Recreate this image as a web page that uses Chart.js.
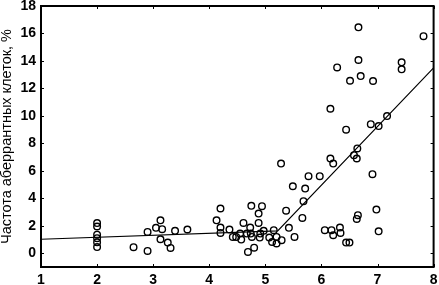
<!DOCTYPE html>
<html>
<head>
<meta charset="utf-8">
<script src="https://cdn.jsdelivr.net/npm/chart.js@4.4.1/dist/chart.umd.min.js"></script>
<style>
html,body{margin:0;padding:0;background:#fff;}
#wrap{width:439px;height:285px;position:relative;}
</style>
</head>
<body>
<div id="wrap"><canvas id="c" width="439" height="285"></canvas></div>
<script>
const yTitle = "Частота аберрантных клеток, %";
const xTickVals = [1,2,3,4,5,6,7,8];
const yTickVals = [0,2,4,6,8,10,12,14,16,18];

const pointsX = [
  2,2,2,2,2,2,
  2.65,2.9,2.9,3.05,3.13,3.16,3.13,3.26,3.31,3.39,3.61,
  4.13,4.2,4.2,4.2,4.36,4.42,4.48,4.55,4.57,4.61,4.67,4.73,4.74,4.76,4.69,4.8,4.75,4.94,4.88,4.88,4.91,4.9,4.97,5.07,5.12,5.2,5.2,5.29,5.15,5.37,
  5.28,6.16,6.21,5.77,5.97,5.49,5.71,5.68,5.66,5.42,5.52,6.65,6.63,6.06,6.18,6.21,6.33,6.34,6.44,6.5,6.64,6.58,6.63,
  6.66,7.82,6.66,6.28,7.43,7.43,6.51,6.70,6.92,6.16,6.44,6.88,7.02,7.17,6.91,6.98,7.02
];
const pointsY = [
  2.2,1.95,1.35,1.1,0.8,0.45,
  0.44,0.17,1.55,1.85,2.4,1.75,1.02,0.78,0.39,1.63,1.73,
  2.4,3.26,1.87,1.48,1.73,1.19,1.19,1.43,1.0,2.21,1.43,1.87,1.43,1.19,0.1,0.41,3.45,3.43,2.89,2.21,1.43,1.14,1.63,1.14,0.82,1.19,0.71,0.95,1.68,3.1,
  6.53,6.9,6.53,5.61,5.61,4.88,4.71,3.79,2.57,1.85,1.19,2.77,2.5,1.68,1.68,1.31,1.87,1.48,0.78,0.78,7.63,7.14,6.9,
  16.45,15.8,14.07,13.53,13.9,13.39,12.56,12.9,12.54,10.52,9.0,9.4,9.26,9.99,5.76,3.18,1.6
];
const fitX = [1, 5.22, 8];
const fitY = [1.02, 1.63, 13.5];

const scatterData = pointsX.map((x,i)=>({x:x, y:pointsY[i]}));
const lineData = fitX.map((x,i)=>({x:x, y:fitY[i]}));

const frameTicks = {
  id:'frameTicks',
  afterDraw(chart){
    const ctx = chart.ctx, a = chart.chartArea;
    const xs = chart.scales.x, ys = chart.scales.y;
    ctx.save();
    ctx.strokeStyle = '#000';
    ctx.lineWidth = 2;
    ctx.strokeRect(a.left, a.top, a.right-a.left, a.bottom-a.top);
    ctx.lineWidth = 1;
    const L = 3;
    ctx.beginPath();
    xTickVals.forEach(v=>{
      const px = Math.round(xs.getPixelForValue(v))+0.5;
      ctx.moveTo(px, a.bottom); ctx.lineTo(px, a.bottom-L);
      ctx.moveTo(px, a.top); ctx.lineTo(px, a.top+L);
    });
    yTickVals.forEach(v=>{
      const py = Math.round(ys.getPixelForValue(v))+0.5;
      ctx.moveTo(a.left, py); ctx.lineTo(a.left+L, py);
      ctx.moveTo(a.right, py); ctx.lineTo(a.right-L, py);
    });
    ctx.stroke();
    ctx.restore();
  }
};

new Chart(document.getElementById('c'), {
  type:'scatter',
  data:{
    datasets:[
      {
        type:'line',
        data:lineData,
        borderColor:'#000',
        borderWidth:1.2,
        pointRadius:0,
        fill:false,
        tension:0
      },
      {
        data:scatterData,
        pointStyle:'circle',
        pointRadius:3.3,
        pointBorderWidth:1.4,
        pointBorderColor:'#000',
        pointBackgroundColor:'rgba(0,0,0,0)',
        showLine:false
      }
    ]
  },
  options:{
    responsive:false,
    animation:false,
    devicePixelRatio:1,
    layout:{padding:{top:6,right:5,left:0,bottom:0}},
    plugins:{legend:{display:false},tooltip:{enabled:false}},
    scales:{
      x:{
        type:'linear', min:1, max:8,
        grid:{display:false, drawTicks:false},
        border:{display:false},
        afterBuildTicks(s){ s.ticks = xTickVals.map(v=>({value:v})); },
        afterFit(s){ s.height = 18; s.paddingRight = 0; s.paddingLeft = 0; },
        ticks:{color:'#000', padding:5, font:{family:'Liberation Sans, Arial, sans-serif', size:14, weight:'bold'}, maxRotation:0}
      },
      y:{
        type:'linear', min:-1, max:18,
        grid:{display:false, drawTicks:false},
        border:{display:false},
        afterBuildTicks(s){ s.ticks = yTickVals.map(v=>({value:v})); },
        afterFit(s){ s.width = 41; s.paddingTop = 0; s.paddingBottom = 0; },
        ticks:{color:'#000', padding:5, font:{family:'Liberation Sans, Arial, sans-serif', size:14, weight:'bold'}},
        title:{display:true, text:yTitle, color:'#000', padding:{top:0,bottom:0}, font:{family:'Liberation Sans, Arial, sans-serif', size:14.5, lineHeight:1}}
      }
    }
  },
  plugins:[frameTicks]
});
</script>
</body>
</html>
